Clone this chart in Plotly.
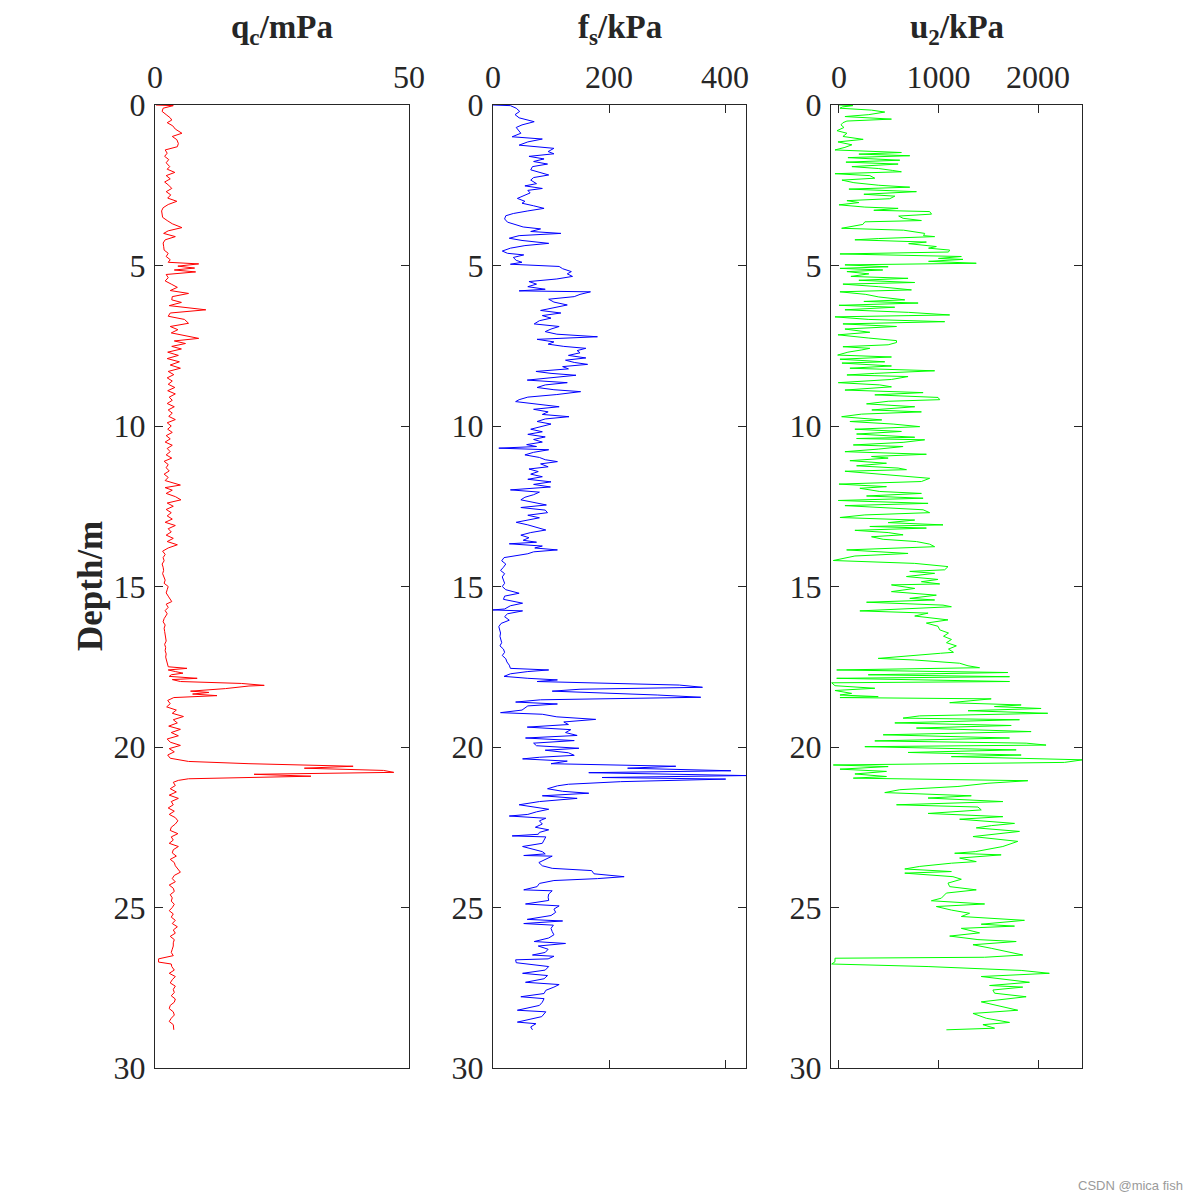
import plotly.graph_objects as go

# ---------------- data ----------------
qc_depth = [0.00,0.02,0.10,0.20,0.30,0.40,0.47,0.55,0.65,0.75,0.88,0.98,1.08,1.20,1.30,1.40,1.50,1.60,1.70,1.80,1.92,2.00,2.10,2.20,2.30,2.40,2.50,2.60,2.70,2.80,2.90,3.00,3.10,3.20,3.30,3.40,3.50,3.60,3.70,3.82,3.92,4.00,4.10,4.20,4.30,4.40,4.52,4.62,4.72,4.82,4.90,4.95,5.02,5.08,5.14,5.20,5.28,5.38,5.48,5.58,5.68,5.78,5.87,5.97,6.07,6.15,6.25,6.38,6.48,6.58,6.68,6.80,6.90,7.00,7.10,7.27,7.35,7.43,7.52,7.60,7.70,7.80,7.90,8.00,8.10,8.20,8.30,8.40,8.50,8.60,8.70,8.80,8.90,9.00,9.10,9.20,9.30,9.40,9.50,9.60,9.70,9.80,9.90,10.00,10.10,10.20,10.30,10.40,10.50,10.60,10.70,10.80,10.90,11.00,11.10,11.20,11.30,11.40,11.50,11.60,11.70,11.84,11.92,12.00,12.10,12.20,12.30,12.40,12.50,12.60,12.70,12.80,12.90,13.00,13.10,13.20,13.30,13.40,13.50,13.60,13.70,13.80,13.90,14.00,14.10,14.20,14.30,14.40,14.50,14.60,14.70,14.80,14.90,15.00,15.10,15.20,15.30,15.47,15.55,15.65,15.75,15.85,16.00,16.10,16.20,16.30,16.40,16.50,16.60,16.70,16.80,16.90,17.00,17.10,17.20,17.30,17.40,17.50,17.55,17.60,17.65,17.70,17.75,17.80,17.86,17.90,17.96,18.02,18.08,18.10,18.18,18.26,18.30,18.35,18.40,18.46,18.55,18.65,18.75,18.85,18.95,19.05,19.15,19.25,19.35,19.45,19.55,19.65,19.75,19.85,19.95,20.05,20.15,20.25,20.35,20.45,20.52,20.60,20.66,20.73,20.79,20.85,20.91,20.99,21.04,21.10,21.20,21.30,21.40,21.50,21.60,21.70,21.80,21.90,22.00,22.10,22.20,22.30,22.40,22.50,22.60,22.70,22.80,22.90,23.00,23.10,23.20,23.30,23.40,23.50,23.60,23.70,23.90,24.00,24.10,24.20,24.30,24.40,24.50,24.60,24.70,24.80,24.90,25.00,25.10,25.20,25.30,25.40,25.50,25.60,25.70,25.80,25.90,26.00,26.10,26.20,26.30,26.40,26.50,26.60,26.70,26.76,26.84,26.95,27.05,27.15,27.25,27.35,27.45,27.55,27.65,27.75,27.85,27.95,28.05,28.15,28.25,28.35,28.45,28.55,28.65,28.75,28.81]
qc_value = [0.2,3.6,1.6,1.4,2.2,3.0,3.3,2.4,3.5,4.0,5.3,3.4,4.3,4.6,4.4,2.0,2.4,1.9,2.7,2.2,2.9,2.4,3.9,2.2,3.0,1.9,2.7,3.3,2.2,3.1,2.5,4.3,2.6,1.6,1.3,1.4,1.5,2.4,3.4,5.3,2.6,1.7,4.0,2.0,1.6,1.7,1.8,2.6,2.2,3.0,2.6,8.6,4.5,7.8,3.8,8.0,2.2,2.6,2.0,3.2,4.4,3.0,6.6,3.4,3.3,5.2,2.8,10.0,3.0,2.6,5.8,6.6,3.0,4.5,3.2,8.6,3.8,6.0,3.3,5.2,2.5,4.6,2.4,4.8,3.0,5.0,2.6,3.7,2.4,3.4,2.6,3.9,2.5,4.0,2.8,3.4,2.4,3.8,2.6,3.4,2.7,4.0,2.4,3.2,2.5,3.4,2.2,3.0,2.0,3.4,2.4,3.0,2.2,3.3,1.8,2.6,2.2,2.8,1.8,2.6,2.0,5.0,2.0,3.4,2.2,4.0,5.1,2.4,3.6,2.2,3.2,2.4,3.4,2.0,4.0,2.6,3.2,2.2,3.6,2.4,4.4,2.6,1.5,2.0,1.6,1.8,1.4,1.6,1.7,1.5,1.8,2.0,1.8,2.6,2.4,2.2,2.6,3.3,2.2,2.6,2.0,2.4,1.8,1.6,2.0,1.8,1.9,2.0,2.1,2.2,1.9,2.1,2.0,2.2,2.1,2.3,2.5,2.6,6.3,2.6,4.0,5.5,3.2,2.8,8.3,3.4,5.0,17.0,21.5,18.5,13.9,7.0,10.6,7.4,12.2,3.7,2.5,3.0,2.3,4.2,3.4,5.6,3.6,4.4,2.7,5.0,3.2,4.6,2.4,3.0,5.0,2.8,3.8,2.5,3.0,6.6,18.5,39.0,29.4,45.0,47.0,19.5,30.7,6.6,4.6,3.6,4.0,3.0,4.2,2.8,4.6,3.2,3.6,2.6,3.8,2.8,4.0,4.5,4.0,3.2,3.0,4.5,3.2,3.6,2.8,4.6,3.6,3.4,4.2,3.0,3.8,4.0,5.0,3.8,3.4,4.0,2.8,3.6,3.8,3.0,3.4,3.2,3.8,3.4,2.8,3.6,3.2,4.0,3.4,4.4,3.6,4.0,3.0,3.8,3.6,3.6,3.4,3.2,3.6,0.7,0.7,3.2,3.3,3.8,2.8,4.0,3.4,3.0,4.0,3.6,3.8,3.2,4.0,3.8,3.0,2.8,3.6,3.8,3.2,2.8,3.6,3.6,3.7]

fs_depth = [0.00,0.02,0.10,0.20,0.30,0.40,0.52,0.62,0.70,0.80,0.88,0.99,1.06,1.15,1.25,1.35,1.45,1.52,1.60,1.68,1.76,1.84,1.92,2.02,2.10,2.18,2.26,2.34,2.45,2.52,2.60,2.66,2.74,2.82,2.91,3.00,3.06,3.14,3.22,3.30,3.38,3.45,3.55,3.65,3.74,3.80,3.86,3.94,4.00,4.07,4.15,4.22,4.31,4.38,4.46,4.55,4.62,4.67,4.75,4.84,4.90,4.96,5.03,5.10,5.19,5.26,5.34,5.42,5.50,5.58,5.66,5.74,5.79,5.82,5.90,5.97,6.05,6.14,6.23,6.32,6.40,6.48,6.56,6.64,6.72,6.82,6.90,6.98,7.06,7.14,7.22,7.30,7.38,7.45,7.52,7.58,7.65,7.72,7.80,7.88,7.95,8.02,8.08,8.15,8.22,8.30,8.36,8.42,8.50,8.57,8.65,8.72,8.80,8.87,8.93,9.02,9.10,9.18,9.24,9.32,9.40,9.48,9.56,9.64,9.71,9.78,9.86,9.94,10.02,10.10,10.18,10.26,10.34,10.42,10.50,10.58,10.64,10.69,10.74,10.82,10.90,10.98,11.05,11.11,11.18,11.27,11.34,11.42,11.50,11.58,11.66,11.74,11.82,11.90,11.99,12.06,12.14,12.22,12.30,12.38,12.46,12.54,12.62,12.70,12.78,12.86,12.94,13.00,13.08,13.16,13.24,13.32,13.40,13.48,13.56,13.62,13.67,13.74,13.80,13.86,13.92,13.98,14.05,14.10,14.20,14.30,14.40,14.50,14.60,14.70,14.80,14.90,15.00,15.10,15.21,15.30,15.40,15.52,15.60,15.70,15.73,15.76,15.85,15.94,16.05,16.15,16.25,16.35,16.45,16.55,16.65,16.75,16.85,16.95,17.05,17.15,17.25,17.35,17.45,17.55,17.60,17.65,17.72,17.80,17.86,17.91,17.96,18.02,18.07,18.14,18.20,18.26,18.32,18.38,18.45,18.53,18.60,18.66,18.72,18.77,18.85,18.93,18.98,19.06,19.14,19.22,19.30,19.38,19.46,19.55,19.64,19.72,19.80,19.88,19.96,20.04,20.10,20.18,20.26,20.32,20.37,20.44,20.52,20.60,20.66,20.74,20.80,20.89,20.95,21.00,21.08,21.16,21.21,21.30,21.38,21.44,21.52,21.60,21.70,21.80,21.88,21.94,22.02,22.10,22.15,22.22,22.30,22.40,22.50,22.58,22.66,22.72,22.77,22.80,22.90,23.00,23.10,23.18,23.26,23.33,23.38,23.40,23.50,23.60,23.70,23.78,23.85,23.95,24.04,24.10,24.16,24.25,24.35,24.45,24.48,24.58,24.68,24.78,24.89,24.95,25.05,25.15,25.25,25.37,25.42,25.50,25.55,25.65,25.75,25.85,25.95,26.06,26.12,26.20,26.30,26.40,26.48,26.52,26.60,26.63,26.72,26.84,26.95,27.05,27.12,27.22,27.33,27.40,27.48,27.58,27.68,27.78,27.84,27.95,28.05,28.20,28.25,28.40,28.57,28.62,28.72,28.81]
fs_value = [0,30,40,46,38,45,71,50,40,45,48,33,85,60,45,105,95,105,62,88,70,94,68,65,80,96,70,65,75,55,85,60,64,52,42,55,50,70,88,60,35,22,20,25,40,52,82,65,117,45,28,50,96,55,30,16,25,53,35,40,50,30,114,120,135,128,137,110,62,75,60,90,45,168,150,140,96,105,128,100,82,117,85,100,80,71,114,100,90,110,180,76,105,95,122,160,145,150,130,160,125,140,163,120,130,74,100,143,95,59,128,90,76,105,151,110,60,45,39,80,114,70,95,85,131,90,76,100,80,65,85,60,90,70,85,58,75,10,96,70,55,80,90,111,82,95,62,78,65,85,60,100,70,99,30,80,70,55,48,70,92,48,90,94,60,80,55,40,60,75,91,65,48,62,52,75,28,85,72,111,70,60,35,19,15,22,18,13,20,16,18,20,16,22,45,20,18,51,30,20,0,51,25,20,28,14,10,12,13,12,14,15,12,18,20,16,22,24,28,30,96,60,30,19,60,111,76,200,321,361,150,102,200,283,358,82,39,111,60,56,50,13,85,110,177,122,130,59,134,125,145,56,140,70,75,148,90,130,140,80,51,128,100,315,232,410,165,436,188,401,220,130,111,94,120,165,85,145,80,45,70,96,75,60,28,91,80,85,73,96,80,78,33,91,88,85,51,70,85,90,53,102,90,79,85,102,170,174,226,180,105,80,76,53,102,96,95,96,56,114,105,108,100,59,120,53,104,100,102,105,96,71,125,78,95,90,68,105,95,39,40,96,90,51,94,88,56,114,105,91,88,48,88,85,80,42,91,84,42,74,65,68]

u2_depth = [0.00,0.02,0.06,0.10,0.16,0.22,0.30,0.36,0.44,0.50,0.55,0.62,0.70,0.80,0.88,0.98,1.07,1.15,1.24,1.32,1.40,1.48,1.53,1.58,1.64,1.72,1.78,1.84,1.92,1.98,2.04,2.08,2.14,2.20,2.28,2.34,2.42,2.50,2.56,2.62,2.70,2.78,2.84,2.92,2.98,3.04,3.11,3.18,3.22,3.28,3.32,3.40,3.46,3.53,3.60,3.64,3.72,3.80,3.84,3.90,4.00,4.07,4.10,4.16,4.20,4.27,4.32,4.41,4.46,4.52,4.58,4.64,4.72,4.78,4.81,4.87,4.93,4.98,5.04,5.09,5.14,5.19,5.26,5.34,5.40,5.46,5.53,5.58,5.66,5.76,5.82,5.90,5.98,6.07,6.12,6.17,6.24,6.30,6.38,6.46,6.54,6.60,6.68,6.75,6.82,6.90,6.98,7.08,7.16,7.26,7.34,7.40,7.47,7.53,7.58,7.63,7.70,7.79,7.85,7.92,8.00,8.04,8.13,8.20,8.28,8.36,8.41,8.46,8.55,8.65,8.72,8.78,8.88,8.96,9.03,9.11,9.18,9.23,9.31,9.40,9.50,9.56,9.63,9.71,9.81,9.86,9.94,10.02,10.10,10.17,10.25,10.35,10.39,10.43,10.51,10.59,10.64,10.72,10.80,10.88,10.95,11.00,11.08,11.16,11.24,11.31,11.36,11.41,11.52,11.63,11.73,11.81,11.89,11.94,12.04,12.10,12.18,12.25,12.32,12.41,12.48,12.56,12.61,12.70,12.77,12.85,12.93,13.01,13.08,13.13,13.18,13.25,13.32,13.39,13.45,13.53,13.60,13.68,13.76,13.86,13.97,14.05,14.12,14.19,14.28,14.38,14.48,14.53,14.59,14.69,14.78,14.85,14.92,14.95,15.06,15.16,15.27,15.37,15.42,15.49,15.58,15.63,15.76,15.83,15.92,15.99,16.04,16.14,16.24,16.35,16.45,16.55,16.65,16.75,16.85,16.95,17.05,17.08,17.24,17.29,17.39,17.47,17.53,17.60,17.68,17.75,17.81,17.86,17.91,17.96,18.00,18.09,18.17,18.24,18.33,18.38,18.43,18.46,18.50,18.62,18.69,18.74,18.80,18.87,18.95,19.03,19.10,19.15,19.25,19.33,19.41,19.52,19.62,19.72,19.81,19.88,19.94,19.99,20.09,20.17,20.25,20.30,20.40,20.48,20.56,20.61,20.69,20.76,20.84,20.92,20.97,21.05,21.13,21.23,21.33,21.42,21.52,21.59,21.70,21.80,21.87,21.96,22.07,22.17,22.25,22.38,22.45,22.52,22.63,22.79,22.94,23.10,23.26,23.31,23.36,23.46,23.57,23.62,23.72,23.80,23.88,23.93,24.04,24.12,24.24,24.35,24.45,24.55,24.71,24.79,24.89,24.97,25.08,25.18,25.28,25.40,25.52,25.58,25.65,25.75,25.79,25.89,26.00,26.06,26.16,26.27,26.48,26.55,26.58,26.69,26.76,26.84,26.96,27.05,27.15,27.33,27.43,27.48,27.57,27.67,27.78,27.94,28.04,28.20,28.30,28.45,28.58,28.65,28.76,28.81]
u2_value = [0,140,35,10,327,460,300,60,527,80,40,20,50,-20,80,40,243,-10,130,60,-40,627,200,711,90,611,70,594,130,400,540,627,-40,310,360,30,150,400,711,100,778,250,561,510,80,200,0,260,594,350,911,930,600,644,828,260,240,100,27,650,861,850,961,400,160,878,700,978,900,1112,1100,10,1229,1000,1245,900,1379,60,494,10,440,80,300,120,694,200,761,40,400,728,10,270,400,661,250,795,0,560,60,700,1112,-40,300,1062,40,578,60,310,-10,300,578,578,494,40,310,230,90,-13,527,10,460,30,527,110,961,360,80,694,527,-7,410,527,60,845,360,995,1012,494,277,761,330,828,227,27,430,110,544,811,160,627,177,761,177,861,644,144,644,394,60,878,327,494,110,477,177,594,678,60,527,911,828,0,477,210,410,828,277,845,-7,895,60,578,845,911,260,10,761,494,1045,310,878,160,494,644,327,444,778,911,961,77,694,160,44,-57,761,1095,1062,711,961,678,995,828,1012,527,761,527,978,711,961,277,1045,1129,210,895,761,978,1095,878,995,1012,1100,1050,1130,1080,1179,1100,1150,1020,394,761,1212,1296,1412,-23,1696,294,1713,-23,711,1713,-73,-40,360,-40,127,10,394,10,1529,1112,1830,1562,2030,1296,2097,811,644,1813,561,1730,778,1930,444,1713,360,1880,2080,260,1780,694,1830,1129,2447,2264,-57,494,10,477,160,477,144,1897,1496,1195,611,460,1329,895,1646,578,1396,1429,895,1646,1212,1763,1530,1379,1813,1346,1796,1646,1369,1162,1629,1212,1379,1129,811,661,1129,661,1145,1229,1095,1112,1379,1079,1028,928,1463,978,1129,1312,1229,1863,1429,1763,1229,1346,1412,1112,1396,1780,1346,1529,1846,1463,-40,-40,-73,895,1830,2113,1429,1913,1513,1846,1546,1563,1880,1429,1563,1796,1346,1479,1713,1446,1563,1079]

titles = ["<b>q<sub>c</sub>/mPa</b>", "<b>f<sub>s</sub>/kPa</b>", "<b>u<sub>2</sub>/kPa</b>"]
x_ranges = [[0, 50], [0, 436], [-80, 2441]]
x_ticks = [[0, 50], [0, 200, 400], [0, 1000, 2000]]
y_ticks = [0, 5, 10, 15, 20, 25, 30]
colors = ["#ff0000", "#0000ff", "#00ff00"]

# ---------------- figure ----------------
W = H = 1200
OFF = 8  # page body margin shifts the figure; compensate
x_dom_px = [(155 - OFF, 409 - OFF), (493 - OFF, 746 - OFF), (831 - OFF, 1082 - OFF)]
y_dom_px = (105 - OFF, 1068 - OFF)
FONT = "Liberation Serif, Times New Roman, serif"
AX = "#262626"

fig = go.Figure()
series = [(qc_value, qc_depth), (fs_value, fs_depth), (u2_value, u2_depth)]
for i, (xv, yv) in enumerate(series):
    sfx = "" if i == 0 else str(i + 1)
    fig.add_trace(go.Scatter(x=xv, y=yv, mode="lines",
                             line=dict(color=colors[i], width=1),
                             xaxis="x" + sfx, yaxis="y" + sfx,
                             showlegend=False, hoverinfo="skip"))

layout = dict(width=W, height=H, autosize=False,
              margin=dict(l=0, r=0, t=0, b=0, pad=0, autoexpand=False),
              paper_bgcolor="white", plot_bgcolor="white", showlegend=False)
ydom = [1 - y_dom_px[1] / H, 1 - y_dom_px[0] / H]
for i in range(3):
    sfx = "" if i == 0 else str(i + 1)
    xd = [x_dom_px[i][0] / W, x_dom_px[i][1] / W]
    common = dict(showgrid=False, zeroline=False, showline=True, linecolor=AX,
                  linewidth=1, mirror="ticks", ticks="inside", ticklen=8,
                  tickwidth=1, tickcolor=AX, automargin=False,
                  tickfont=dict(family=FONT, size=32, color=AX))
    layout["xaxis" + sfx] = dict(common, domain=xd, range=x_ranges[i],
                                 side="top", tickvals=x_ticks[i],
                                 anchor="y" + sfx, ticklabelstandoff=3)
    layout["yaxis" + sfx] = dict(common, domain=ydom, range=[30, 0],
                                 tickvals=y_ticks, anchor="x" + sfx,
                                 ticklabelstandoff=2)
fig.update_layout(**layout)

for i in range(3):
    cx = (x_dom_px[i][0] + x_dom_px[i][1]) / 2 / W
    fig.add_annotation(text=titles[i], x=cx, y=1 - (30 - OFF) / H, xref="paper",
                       yref="paper", xanchor="center", yanchor="middle",
                       showarrow=False, borderpad=0,
                       font=dict(family=FONT, size=33, color=AX))

fig.add_annotation(text="<b>Depth/m</b>", x=(90 - OFF) / W, y=1 - (586 - OFF) / H,
                   xref="paper", yref="paper", textangle=-90,
                   xanchor="center", yanchor="middle", showarrow=False,
                   font=dict(family=FONT, size=35, color=AX))
fig.add_annotation(text="CSDN @mica fish", x=(1185 - OFF) / W, y=1 - (1185 - OFF) / H,
                   xref="paper", yref="paper", xanchor="right",
                   yanchor="middle", showarrow=False,
                   font=dict(family="Liberation Sans, Arial, sans-serif",
                             size=13, color="#9a9a9a"))

fig.write_html("out.html")
